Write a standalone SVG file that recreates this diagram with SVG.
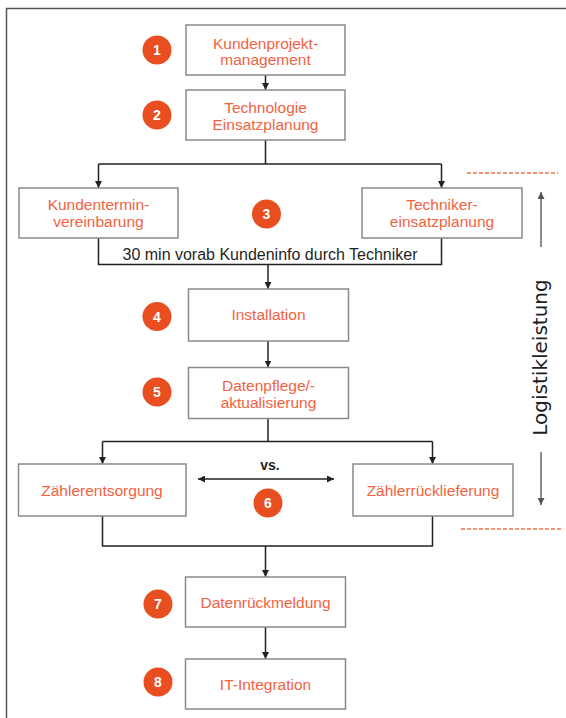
<svg xmlns="http://www.w3.org/2000/svg" width="566" height="718" viewBox="0 0 566 718">
<defs>
<style>
.box{fill:#fff;stroke:#8a8a8a;stroke-width:1.5}
.bt{font-family:"Liberation Sans",Arial,sans-serif;font-size:15.5px;fill:#f2623f;text-anchor:middle}
.num{fill:#e84e1f}
.nt{font-family:"Liberation Sans",Arial,sans-serif;font-size:14px;font-weight:bold;fill:#fff;text-anchor:middle}
.con{fill:none;stroke:#222;stroke-width:1.5}
.dark{font-family:"Liberation Sans",Arial,sans-serif;fill:#1f1f1f;text-anchor:middle}
.side-t{font-family:"DejaVu Sans",sans-serif;font-size:20px;fill:#1f1f1f;text-anchor:middle}
.dash{stroke:#f0704c;stroke-width:1.3;stroke-dasharray:4 2;fill:none}
.side{fill:none;stroke:#666;stroke-width:1.5}
</style>
<marker id="ah" viewBox="0 0 8 8" markerUnits="userSpaceOnUse" markerWidth="7" markerHeight="7" refX="8" refY="4" orient="auto-start-reverse"><path d="M0,0 L8,4 L0,8 z" fill="#222"/></marker>
<marker id="ag" viewBox="0 0 8 8" markerUnits="userSpaceOnUse" markerWidth="7" markerHeight="7" refX="8" refY="4" orient="auto"><path d="M0,0 L8,4 L0,8 z" fill="#555"/></marker>
</defs>
<rect x="6.5" y="8.5" width="700" height="800" fill="none" stroke="#555" stroke-width="1.5"/>
<g id="connectors">
<path class="con" d="M265.5,75 V90" marker-end="url(#ah)"/>
<path class="con" d="M265.5,140 V164 M98.5,164 H441.5"/>
<path class="con" d="M98.5,164 V188" marker-end="url(#ah)"/>
<path class="con" d="M441.5,164 V188" marker-end="url(#ah)"/>
<path class="con" d="M98.5,238 V264.5 H441.5 V238"/>
<path class="con" d="M268,264.5 V289" marker-end="url(#ah)"/>
<path class="con" d="M268,341 V367.5" marker-end="url(#ah)"/>
<path class="con" d="M268,418.5 V441.5 M102.5,441.5 H432.5"/>
<path class="con" d="M102.5,441.5 V464" marker-end="url(#ah)"/>
<path class="con" d="M432.5,441.5 V464" marker-end="url(#ah)"/>
<path class="con" d="M198,479 H334" marker-start="url(#ah)" marker-end="url(#ah)"/>
<path class="con" d="M102.5,516 V546 H432.5 V516"/>
<path class="con" d="M265.5,546 V577" marker-end="url(#ah)"/>
<path class="con" d="M265.5,627 V659" marker-end="url(#ah)"/>
</g>
<g id="n1"><rect class="box" x="186" y="25" width="159" height="50"/><text class="bt" x="265.5" y="48.5">Kundenprojekt-</text><text class="bt" x="265.5" y="65">management</text><circle class="num" cx="157" cy="50" r="14.5"/><text class="nt" x="157" y="55">1</text></g>
<g id="n2"><rect class="box" x="186" y="90" width="159" height="50"/><text class="bt" x="265.5" y="113">Technologie</text><text class="bt" x="265.5" y="129.5">Einsatzplanung</text><circle class="num" cx="157" cy="115" r="14.5"/><text class="nt" x="157" y="120">2</text></g>
<g id="n3a"><rect class="box" x="19" y="188" width="159" height="50"/><text class="bt" x="98.5" y="210">Kundentermin-</text><text class="bt" x="98.5" y="227">vereinbarung</text></g>
<g id="n3b"><rect class="box" x="362" y="188" width="160" height="50"/><text class="bt" x="442" y="210">Techniker-</text><text class="bt" x="442" y="227">einsatzplanung</text></g>
<g id="s3"><circle class="num" cx="266.5" cy="214" r="14.5"/><text class="nt" x="266.5" y="219">3</text></g>
<g id="info"><text class="dark" x="270" y="260" font-size="16">30 min vorab Kundeninfo durch Techniker</text></g>
<g id="n4"><rect class="box" x="188.5" y="289" width="160" height="52"/><text class="bt" x="268.5" y="320">Installation</text><circle class="num" cx="157" cy="316.5" r="14.5"/><text class="nt" x="157" y="321.5">4</text></g>
<g id="n5"><rect class="box" x="188.5" y="367.5" width="160" height="51"/><text class="bt" x="268.5" y="390.5">Datenpflege/-</text><text class="bt" x="268.5" y="407.5">aktualisierung</text><circle class="num" cx="157" cy="392" r="14.5"/><text class="nt" x="157" y="397">5</text></g>
<g id="n6a"><rect class="box" x="18.5" y="464" width="167.5" height="52"/><text class="bt" x="102" y="495.5">Zählerentsorgung</text></g>
<g id="n6b"><rect class="box" x="353" y="464" width="160" height="52"/><text class="bt" x="433" y="495.5">Zählerrücklieferung</text></g>
<g id="s6"><text class="dark" x="270" y="470" font-size="14" font-weight="bold">vs.</text><circle class="num" cx="268" cy="503" r="14.5"/><text class="nt" x="268" y="508">6</text></g>
<g id="n7"><rect class="box" x="185.5" y="577" width="160" height="50"/><text class="bt" x="265.5" y="608">Datenrückmeldung</text><circle class="num" cx="158" cy="604" r="14.5"/><text class="nt" x="158" y="609">7</text></g>
<g id="n8"><rect class="box" x="185.5" y="659" width="160" height="50"/><text class="bt" x="265.5" y="690">IT-Integration</text><circle class="num" cx="158" cy="682" r="14.5"/><text class="nt" x="158" y="687">8</text></g>
<g id="logistik">
<path class="dash" d="M467,173 H558"/>
<path class="dash" d="M461,529 H561"/>
<path class="side" d="M541,247 V192" marker-end="url(#ag)"/>
<path class="side" d="M541,452 V505" marker-end="url(#ag)"/>
<text class="side-t" transform="translate(547,357.5) rotate(-90)">Logistikleistung</text>
</g>
</svg>
